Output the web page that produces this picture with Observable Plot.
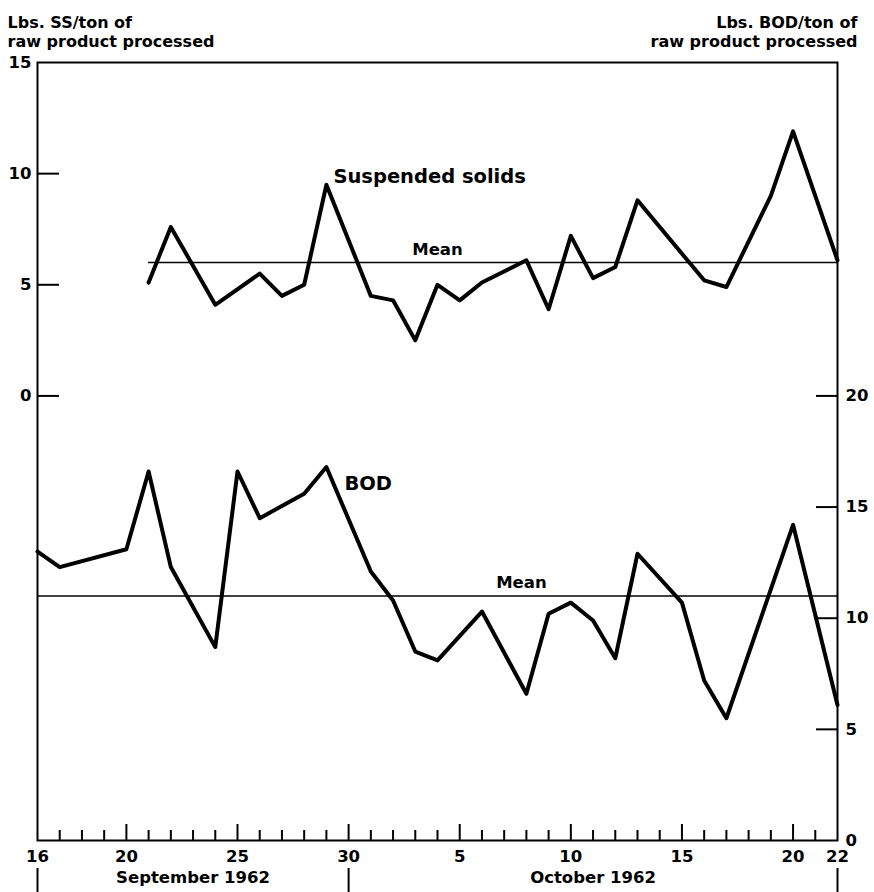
<!DOCTYPE html>
<html>
<head>
<meta charset="utf-8">
<script src="https://cdn.jsdelivr.net/npm/d3@7"></script>
<script src="https://cdn.jsdelivr.net/npm/@observablehq/plot@0.6"></script>
<style>
  body { margin: 0; background: #fff; }
  #chart svg { display: block; }
</style>
</head>
<body>
<div id="chart"></div>
<script>
// ---- Data ----
const ssDates = ["1962-09-21","1962-09-22","1962-09-24","1962-09-26","1962-09-27","1962-09-28","1962-09-29",
  "1962-10-01","1962-10-02","1962-10-03","1962-10-04","1962-10-05","1962-10-06","1962-10-08","1962-10-09",
  "1962-10-10","1962-10-11","1962-10-12","1962-10-13","1962-10-16","1962-10-17","1962-10-19","1962-10-20","1962-10-22"];
const ssValues = [5.1, 7.6, 4.1, 5.5, 4.5, 5.0, 9.5, 4.5, 4.3, 2.5, 5.0, 4.3, 5.1, 6.1, 3.9,
  7.2, 5.3, 5.8, 8.8, 5.2, 4.9, 9.0, 11.9, 6.1];

const bodDates = ["1962-09-16","1962-09-17","1962-09-20","1962-09-21","1962-09-22","1962-09-24","1962-09-25",
  "1962-09-26","1962-09-28","1962-09-29","1962-10-01","1962-10-02","1962-10-03","1962-10-04","1962-10-06",
  "1962-10-08","1962-10-09","1962-10-10","1962-10-11","1962-10-12","1962-10-13","1962-10-15","1962-10-16",
  "1962-10-17","1962-10-20","1962-10-22"];
const bodValues = [13.0, 12.3, 13.1, 16.6, 12.3, 8.7, 16.6, 14.5, 15.6, 16.8, 12.1, 10.8, 8.5, 8.1, 10.3,
  6.6, 10.2, 10.7, 9.9, 8.2, 12.9, 10.7, 7.2, 5.5, 14.2, 6.1];

const ssMean = 6.0;
const bodMean = 11.0;

// Right (BOD) axis: BOD 20 sits at SS 0
const bodOffset = 20;

const ssTicks = [0, 5, 10, 15];
const bodTicks = [0, 5, 10, 15, 20];

const xDomain = ["1962-09-16", "1962-10-22"];
const xLabelDates = ["1962-09-16","1962-09-20","1962-09-25","1962-09-30","1962-10-05","1962-10-10","1962-10-15","1962-10-20","1962-10-22"];
const xMajorTickDates = ["1962-09-20","1962-09-25","1962-09-30","1962-10-05","1962-10-10","1962-10-15","1962-10-20"];
const monthSeparators = ["1962-09-16","1962-09-30","1962-10-22"];
const monthLabels = ["September 1962", "October 1962"];
const monthCenters = ["1962-09-23", "1962-10-11"];

const headerLeft = "Lbs. SS/ton of\nraw product processed";
const headerRight = "Lbs. BOD/ton of\nraw product processed";

// ---- Build ----
const parse = d3.utcParse("%Y-%m-%d");
const ss = ssDates.map((d, i) => ({date: parse(d), value: ssValues[i]}));
const bod = bodDates.map((d, i) => ({date: parse(d), value: bodValues[i] - bodOffset}));
const x0 = parse(xDomain[0]), x1 = parse(xDomain[1]);
const majors = xMajorTickDates.map(parse);
const minorTicks = d3.utcDay.range(d3.utcDay.offset(x0, 1), x1)
  .filter(d => !majors.some(m => +m === +d));

const FONT = "DejaVu Sans";
const FW = "bold";
const chart = Plot.plot({
  width: 874,
  height: 892,
  marginLeft: 37,
  marginRight: 37,
  marginTop: 62,
  marginBottom: 52,
  style: {fontFamily: FONT, fontSize: "16.5px", fontWeight: FW, color: "#000", background: "#fff", overflow: "visible"},
  x: {type: "utc", domain: [x0, x1], axis: null},
  y: {domain: [-20, 15], axis: null},
  marks: [
    Plot.frame({stroke: "#000", strokeWidth: 2}),
    // left axis (SS)
    Plot.axisY({anchor: "left", ticks: ssTicks, tickSize: 0, tickPadding: 6, label: null, fontSize: 16.5, fontWeight: FW}),
    Plot.axisY({anchor: "left", ticks: ssTicks.filter(d => d < 15), tickSize: -22, text: null, strokeWidth: 2, label: null}),
    // right axis (BOD)
    Plot.axisY({anchor: "right", ticks: bodTicks.map(d => d - bodOffset), tickFormat: d => d + bodOffset,
      tickSize: 0, tickPadding: 8, label: null, fontSize: 16.5, fontWeight: FW}),
    Plot.axisY({anchor: "right", ticks: bodTicks.filter(d => d > 0).map(d => d - bodOffset), tickSize: -22,
      text: null, strokeWidth: 2, label: null}),
    // bottom axis
    Plot.axisX({anchor: "bottom", ticks: minorTicks, tickSize: -10, text: null, strokeWidth: 2, label: null}),
    Plot.axisX({anchor: "bottom", ticks: majors, tickSize: -16, text: null, strokeWidth: 2, label: null}),
    Plot.axisX({anchor: "bottom", ticks: xLabelDates.map(parse), tickFormat: d3.utcFormat("%-d"),
      tickSize: 0, tickPadding: 10, label: null, fontSize: 16.5, fontWeight: FW}),
    Plot.axisX({anchor: "bottom", ticks: monthSeparators.map(parse), tickSize: 24, dy: 28, text: null,
      strokeWidth: 2, label: null}),
    Plot.text(monthLabels, {x: (d, i) => parse(monthCenters[i]), text: d => d, frameAnchor: "bottom",
      dy: 31, lineAnchor: "top", fontSize: 16.5, fontWeight: FW}),
    // headers
    Plot.text([headerLeft], {frameAnchor: "top-left", dx: -30, dy: -48, lineAnchor: "top", textAnchor: "start",
      fontSize: 16, lineHeight: 1.2, fontWeight: FW}),
    Plot.text([headerRight], {frameAnchor: "top-right", dx: 20, dy: -48, lineAnchor: "top", textAnchor: "end",
      fontSize: 16, lineHeight: 1.2, fontWeight: FW}),
    // mean lines
    Plot.ruleY([ssMean], {y: d => d, x1: ss[0].date, x2: ss[ss.length - 1].date, stroke: "#000", strokeWidth: 1.6}),
    Plot.ruleY([bodMean - bodOffset], {y: d => d, stroke: "#000", strokeWidth: 1.6}),
    Plot.text(["Mean"], {x: parse("1962-10-04"), y: ssMean, dy: -13, fontSize: 16.5, fontWeight: FW}),
    Plot.text(["Mean"], {x: parse("1962-10-08"), y: bodMean - bodOffset, dx: -5, dy: -13, fontSize: 16.5, fontWeight: FW}),
    // series
    Plot.line(ss, {x: "date", y: "value", stroke: "#000", strokeWidth: 4, strokeLinejoin: "round", strokeLinecap: "round"}),
    Plot.line(bod, {x: "date", y: "value", stroke: "#000", strokeWidth: 4, strokeLinejoin: "round", strokeLinecap: "round"}),
    Plot.text(["Suspended solids"], {x: parse("1962-09-29"), y: 9.5, dx: 7, dy: -8, textAnchor: "start", fontSize: 19.5, fontWeight: FW}),
    Plot.text(["BOD"], {x: parse("1962-09-29"), y: 16.8 - bodOffset, dx: 18, dy: 17, textAnchor: "start", fontSize: 19.5, fontWeight: FW})
  ]
});
document.getElementById("chart").append(chart);
</script>
</body>
</html>
